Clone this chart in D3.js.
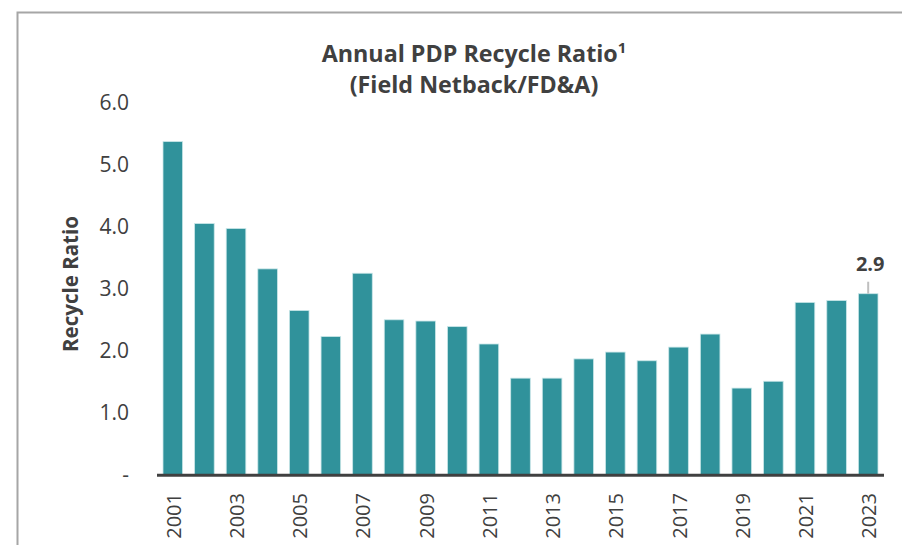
<!DOCTYPE html>
<html>
<head>
<meta charset="utf-8">
<script src="https://cdn.jsdelivr.net/npm/d3@7"></script>
<style>
  html, body { margin: 0; padding: 0; background: #fff; }
  svg { display: block; }
</style>
</head>
<body>
<svg id="chart" width="902" height="545"></svg>
<script>
const years = ["2001","2002","2003","2004","2005","2006","2007","2008","2009","2010","2011","2012","2013","2014","2015","2016","2017","2018","2019","2020","2021","2022","2023"];
const ratios = [5.37, 4.05, 3.97, 3.32, 2.65, 2.23, 3.25, 2.50, 2.48, 2.39, 2.11, 1.56, 1.56, 1.87, 1.98, 1.84, 2.06, 2.27, 1.40, 1.51, 2.78, 2.81, 2.92];
const yTicks = [0, 1, 2, 3, 4, 5, 6];
const yTickLabels = ["-", "1.0", "2.0", "3.0", "4.0", "5.0", "6.0"];
const xLabelYears = ["2001","2003","2005","2007","2009","2011","2013","2015","2017","2019","2021","2023"];
const titleLine1 = "Annual PDP Recycle Ratio";
const titleSup = "1";
const titleLine2 = "(Field Netback/FD&A)";
const yAxisTitle = "Recycle Ratio";
const annotationYear = "2023";
const annotationText = "2.9";

const data = years.map((y, i) => ({ year: y, value: ratios[i] }));

const svg = d3.select("#chart");
const textColor = "#404040";
const barColor = "#30929B";
const font = "'Open Sans', sans-serif";

// frame
svg.append("path")
  .attr("d", "M17.5,545 L17.5,12.5 L902,12.5")
  .attr("fill", "none")
  .attr("stroke", "#a6a6a6")
  .attr("stroke-width", 2);

const x = d3.scaleBand().domain(years).range([157, 884]).paddingInner(0.38).paddingOuter(0.19);
const y = d3.scaleLinear().domain([0, 6]).range([475, 102.5]);

// bars
svg.append("g").selectAll("rect").data(data).join("rect")
  .attr("x", d => x(d.year))
  .attr("y", d => y(d.value))
  .attr("width", x.bandwidth())
  .attr("height", d => y(0) - y(d.value))
  .attr("fill", barColor)
  .attr("stroke", "#c9e6e8")
  .attr("stroke-width", 0.8);

// y axis (labels only)
const yAxis = d3.axisLeft(y).tickValues(yTicks)
  .tickFormat((d, i) => yTickLabels[i]).tickSize(0).tickPadding(0);
const gy = svg.append("g").attr("transform", "translate(129,0)").call(yAxis);
gy.select(".domain").remove();
gy.selectAll("text")
  .attr("font-family", font)
  .attr("font-size", 21)
  .attr("fill", textColor);

// x axis
const xAxis = d3.axisBottom(x).tickValues(xLabelYears).tickSize(0).tickPadding(0);
const gx = svg.append("g").attr("transform", "translate(0,475)").call(xAxis);
gx.select(".domain").remove();
gx.selectAll("text")
  .attr("font-family", font)
  .attr("font-size", 20)
  .attr("fill", textColor)
  .attr("text-anchor", "end")
  .attr("dy", "0.35em")
  .attr("transform", "translate(1,18) rotate(-90)")
  .attr("x", 0)
  .attr("y", 0);

// baseline
svg.append("line")
  .attr("x1", 157).attr("x2", 884)
  .attr("y1", y(0) + 0.3).attr("y2", y(0) + 0.3)
  .attr("stroke", "#404040")
  .attr("stroke-width", 3);

// y axis title
svg.append("text")
  .attr("transform", "translate(78,284) rotate(-90)")
  .attr("text-anchor", "middle")
  .attr("font-family", font)
  .attr("font-weight", "bold")
  .attr("font-size", 20.5)
  .attr("fill", textColor)
  .text(yAxisTitle);

// title
const t1 = svg.append("text")
  .attr("x", 474).attr("y", 62)
  .attr("text-anchor", "middle")
  .attr("font-family", font)
  .attr("font-weight", "bold")
  .attr("font-size", 23.3)
  .attr("fill", textColor);
t1.append("tspan").text(titleLine1);
t1.append("tspan").attr("font-size", 15).attr("dy", -9).text(titleSup);

svg.append("text")
  .attr("x", 474).attr("y", 93)
  .attr("text-anchor", "middle")
  .attr("font-family", font)
  .attr("font-weight", "bold")
  .attr("font-size", 23.3)
  .attr("fill", textColor)
  .text(titleLine2);

// annotation
const aVal = ratios[years.indexOf(annotationYear)];
const ax = x(annotationYear) + x.bandwidth() / 2;
svg.append("line")
  .attr("x1", ax).attr("x2", ax)
  .attr("y1", y(aVal) - 12).attr("y2", y(aVal))
  .attr("stroke", "#bfbfbf")
  .attr("stroke-width", 2);
svg.append("text")
  .attr("x", ax + 2).attr("y", y(aVal) - 23)
  .attr("text-anchor", "middle")
  .attr("font-family", font)
  .attr("font-weight", "bold")
  .attr("font-size", 20)
  .attr("fill", textColor)
  .text(annotationText);
</script>
</body>
</html>
